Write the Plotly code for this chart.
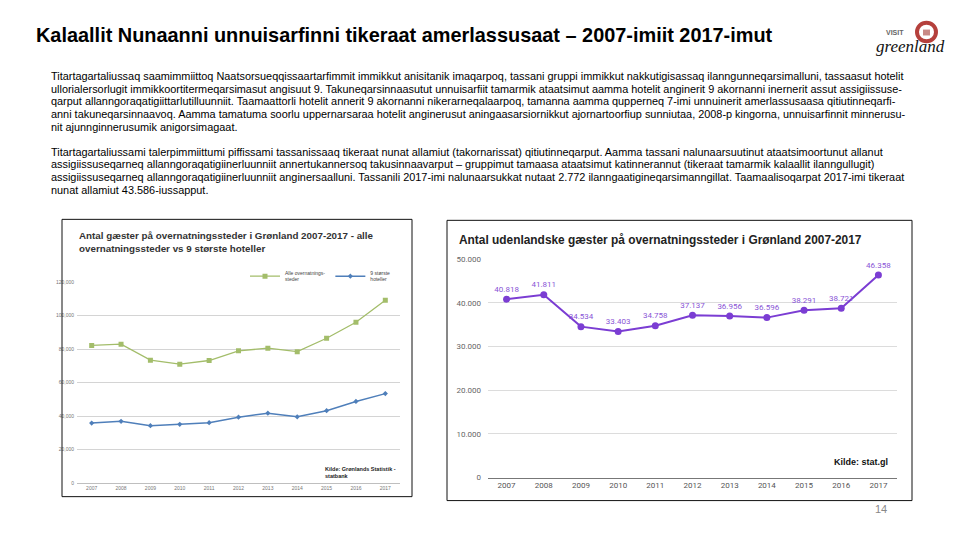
import plotly.graph_objects as go

W, H = 960, 540

# ---------------- data ----------------
years = ["2007", "2008", "2009", "2010", "2011", "2012", "2013", "2014", "2015", "2016", "2017"]

# left chart
alle_overnatning = [82200, 83000, 73400, 71000, 73200, 79000, 80600, 78500, 86500, 96100, 109200]
stoerste_hoteller = [35800, 36800, 34200, 35000, 36000, 39300, 41700, 39500, 43200, 48700, 53400]
left_yticks = [0, 20000, 40000, 60000, 80000, 100000, 120000]
left_yticktext = ["0", "20,000", "40,000", "60,000", "80,000", "100,000", "120,000"]

# right chart (data labels)
udenlandske = [40818, 41811, 34534, 33403, 34758, 37137, 36956, 36596, 38291, 38721, 46358]
right_yticks = [0, 10000, 20000, 30000, 40000, 50000]

title_text = "Kalaallit Nunaanni unnuisarfinni tikeraat amerlassusaat – 2007-imiit 2017-imut"

para1 = [
    "Titartagartaliussaq saamimmiittoq Naatsorsueqqissaartarfimmit immikkut anisitanik imaqarpoq, tassani gruppi immikkut nakkutigisassaq ilanngunneqarsimalluni, tassaasut hotelit",
    "ullorialersorlugit immikkoortitermeqarsimasut angisuut 9. Takuneqarsinnaasutut unnuisarfiit tamarmik ataatsimut aamma hotelit anginerit 9 akornanni inernerit assut assigiissuse-",
    "qarput allanngoraqatigiittarlutilluunniit. Taamaattorli hotelit annerit 9 akornanni nikerarneqalaarpoq, tamanna aamma qupperneq 7-imi unnuinerit amerlassusaasa qitiutinneqarfi-",
    "anni takuneqarsinnaavoq. Aamma tamatuma soorlu uppernarsaraa hotelit anginerusut aningaasarsiornikkut ajornartoorfiup sunniutaa, 2008-p kingorna, unnuisarfinnit minnerusu-",
    "nit ajunnginnerusumik anigorsimagaat.",
]
para2 = [
    "Titartagartaliussami talerpimmiittumi piffissami tassanissaaq tikeraat nunat allamiut (takornarissat) qitiutinneqarput. Aamma tassani nalunaarsuutinut ataatsimoortunut allanut",
    "assigiissuseqarneq allanngoraqatigiinerluunniit annertukannersoq takusinnaavarput – gruppimut tamaasa ataatsimut katinnerannut (tikeraat tamarmik kalaallit ilanngullugit)",
    "assigiissuseqarneq allanngoraqatigiinerluunniit anginersaalluni. Tassanili 2017-imi nalunaarsukkat nutaat 2.772 ilanngaatigineqarsimanngillat. Taamaalisoqarpat 2017-imi tikeraat",
    "nunat allamiut 43.586-iussapput.",
]

left_title = "Antal gæster på overnatningssteder i Grønland 2007-2017 - alle<br>overnatningssteder vs 9 største hoteller"
right_title = "Antal udenlandske gæster på overnatningssteder i Grønland 2007-2017"

GREEN = "#a3bd6a"
BLUE = "#4f7fba"
PURPLE = "#7b3dd3"


def px(x):
    return x / W


def py(y):
    return 1 - y / H


fig = go.Figure()

# left chart traces
fig.add_trace(go.Scatter(
    x=years, y=alle_overnatning, name="Alle overnatnings-<br>steder", mode="lines+markers",
    line=dict(color=GREEN, width=1.3), marker=dict(symbol="square", size=5, color=GREEN),
    xaxis="x", yaxis="y", legend="legend"))
fig.add_trace(go.Scatter(
    x=years, y=stoerste_hoteller, name="9 største<br>hoteller", mode="lines+markers",
    line=dict(color=BLUE, width=1.5), marker=dict(symbol="diamond", size=4, color=BLUE),
    xaxis="x", yaxis="y", legend="legend"))

# right chart trace
fig.add_trace(go.Scatter(
    x=years, y=udenlandske, mode="lines+markers+text", showlegend=False,
    line=dict(color=PURPLE, width=2), marker=dict(size=7, color=PURPLE),
    text=udenlandske, texttemplate="%{y:,}", textposition="top center",
    textfont=dict(family="Roboto, Liberation Sans, Arial", size=8, color="#8a55d6"),
    cliponaxis=False, xaxis="x2", yaxis="y2"))

fig.update_layout(
    width=W, height=H, margin=dict(l=0, r=0, t=0, b=0),
    paper_bgcolor="white", plot_bgcolor="white",
    separators=",.",
    font=dict(family="Liberation Sans, Arial", color="#000"),
    xaxis=dict(domain=[px(77), px(400)], type="category", range=[-0.5, 10.5],
               showgrid=False, showline=True, linecolor="#bfbfbf", linewidth=1,
               ticks="", tickfont=dict(size=5, color="#777"), fixedrange=True),
    yaxis=dict(domain=[py(487), py(283)], range=[0, 120000], tickvals=left_yticks,
               ticktext=left_yticktext, showgrid=True, gridcolor="#d4d4d4", gridwidth=1,
               zeroline=False, showline=False, tickfont=dict(size=5, color="#777"),
               ticklabelstandoff=2, fixedrange=True),
    xaxis2=dict(domain=[px(488), px(897)], type="category", range=[-0.5, 10.5],
                anchor="y2", showgrid=False, showline=True, linecolor="#777", linewidth=1,
                ticks="", tickfont=dict(family="Roboto, Liberation Sans, Arial", size=8, color="#555"),
                fixedrange=True),
    yaxis2=dict(domain=[py(481.7), py(259.3)], range=[0, 50000], anchor="x2",
                tickvals=right_yticks, tickformat=",", showgrid=True, gridcolor="#dcdcdc",
                zeroline=False, showline=False,
                tickfont=dict(family="Roboto, Liberation Sans, Arial", size=8, color="#666"),
                ticklabelstandoff=6, fixedrange=True),
    legend=dict(orientation="h", x=px(396), xanchor="right", y=py(262), yanchor="top",
                font=dict(size=5, color="#444"), bgcolor="rgba(0,0,0,0)",
                itemwidth=30, tracegroupgap=0),
)

shapes = [
    dict(type="rect", xref="paper", yref="paper", x0=px(62), x1=px(412), y0=py(501), y1=py(219),
         line=dict(color="#111", width=1)),
    dict(type="rect", xref="paper", yref="paper", x0=px(447), x1=px(912), y0=py(505), y1=py(220),
         line=dict(color="#111", width=1)),
    # logo ring
    dict(type="circle", xref="paper", yref="paper", x0=px(917), x1=px(936), y0=py(38), y1=py(19),
         line=dict(color="#b5403c", width=4)),
    dict(type="rect", xref="paper", yref="paper", x0=px(923), x1=px(930), y0=py(32), y1=py(26),
         fillcolor="#c98a86", line=dict(width=0)),
]
fig.update_layout(shapes=shapes)

ann = []
ann.append(dict(text=f"<b>{title_text}</b>", x=px(34), y=py(32), xref="paper", yref="paper",
                xanchor="left", yanchor="middle", showarrow=False,
                font=dict(family="Liberation Sans, Arial", size=19.9, color="#000")))

for i, line in enumerate(para1):
    ann.append(dict(text=line, x=px(49), y=py(73 + 13 * i), xref="paper", yref="paper",
                    xanchor="left", yanchor="middle", showarrow=False,
                    font=dict(family="Liberation Sans, Arial", size=10.9, color="#000")))
for i, line in enumerate(para2):
    ann.append(dict(text=line, x=px(49), y=py(150 + 13 * i), xref="paper", yref="paper",
                    xanchor="left", yanchor="middle", showarrow=False,
                    font=dict(family="Liberation Sans, Arial", size=10.9, color="#000")))

ann.append(dict(text=f"<b>{left_title}</b>", x=px(77), y=py(242), xref="paper", yref="paper",
                xanchor="left", yanchor="middle", showarrow=False, align="left",
                font=dict(family="Liberation Sans, Arial", size=9.8, color="#333")))
ann.append(dict(text="<b>Kilde: Grønlands Statistik -<br>statbank</b>", x=px(323), y=py(476),
                xref="paper", yref="paper", xanchor="left", yanchor="middle", showarrow=False,
                align="left", font=dict(family="Liberation Sans, Arial", size=5.5, color="#222")))

ann.append(dict(text=f"<b>{right_title}</b>", x=px(457), y=py(240), xref="paper", yref="paper",
                xanchor="left", yanchor="middle", showarrow=False,
                font=dict(family="Liberation Sans, Arial", size=11.9, color="#222")))
ann.append(dict(text="<b>Kilde: stat.gl</b>", x=px(890), y=py(466), xref="paper", yref="paper",
                xanchor="right", yanchor="middle", showarrow=False,
                font=dict(family="Liberation Sans, Arial", size=9, color="#111")))

# page number
ann.append(dict(text="14", x=px(881), y=py(514), xref="paper", yref="paper",
                xanchor="center", yanchor="middle", showarrow=False,
                font=dict(family="Liberation Sans, Arial", size=11, color="#888")))

# logo text
ann.append(dict(text="<b>VISIT</b>", x=px(895), y=py(29), xref="paper", yref="paper",
                xanchor="center", yanchor="middle", showarrow=False,
                font=dict(family="Liberation Sans, Arial", size=7, color="#666")))
ann.append(dict(text="<i>greenland</i>", x=px(910), y=py(43), xref="paper", yref="paper",
                xanchor="center", yanchor="middle", showarrow=False,
                font=dict(family="Liberation Serif, DejaVu Serif", size=17, color="#111")))

fig.update_layout(annotations=ann)

fig.write_html("out.html", config={"displayModeBar": False},
               post_script="document.body.style.margin='0';")
